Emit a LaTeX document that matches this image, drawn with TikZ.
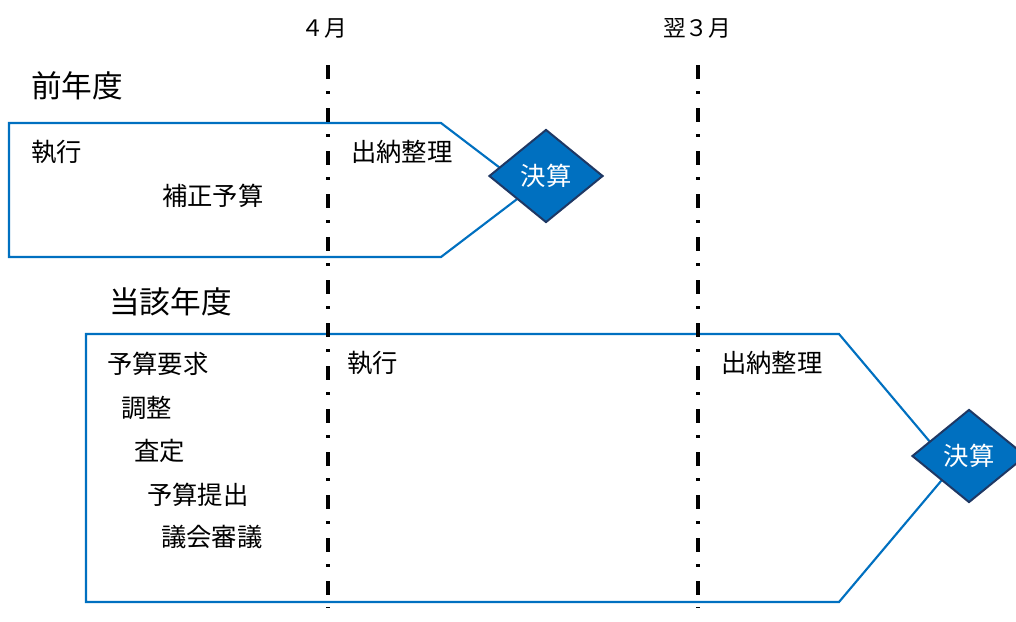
\documentclass[tikz,border=0pt]{standalone}
\usepackage{fontspec}
\setmainfont{Noto Sans CJK JP}
\usetikzlibrary{shapes.geometric}
\definecolor{lineblue}{HTML}{0070C0}
\definecolor{navy}{HTML}{1F3864}
\begin{document}
\begin{tikzpicture}[x=0.75pt,y=-0.75pt,
  period/.style={line width=2.6pt,dash pattern=on 10.5pt off 9pt on 2.25pt off 10.5pt},
  yearbox/.style={draw=lineblue,line width=1.6pt},
  kessan/.style={diamond,draw=navy,line width=1.5pt,fill=lineblue,text=white,inner sep=0pt,
    aspect=1.23,minimum width=85.5pt,minimum height=69.75pt,font=\fontsize{19}{19}\selectfont},
  item/.style={anchor=west,inner sep=0pt,font=\fontsize{19}{19}\selectfont},
  title/.style={anchor=west,inner sep=0pt,font=\fontsize{23}{23}\selectfont},
  month/.style={inner sep=0pt,font=\fontsize{17}{17}\selectfont}]
  \clip (0,0) rectangle (1016,621);

  % year boxes
  \draw[yearbox] (9,123)--(441,123)--(529,190)--(441,257)--(9,257)--cycle;
  \draw[yearbox] (86,334)--(839,334)--(952,468)--(839,602)--(86,602)--cycle;

  \node[kessan] (kessanA) at (546,176) {決算};
  \node[kessan] (kessanB) at (969,456) {決算};

  % months
  \node[month] (apr) at (324,28) {４月};
  \node[month] (mar) at (697,28) {翌３月};
  \draw[period] (328,65)--(328,608);
  \draw[period] (698,65)--(698,608);

  \node[title] (prevyear) at (31,86) {前年度};
  \node[item] (prevexec) at (31,152) {執行};
  \node[item] (hosei) at (162,196) {補正予算};
  \node[item] (prevsuito) at (351,152) {出納整理};

  \node[title] (curyear) at (109,302) {当該年度};
  \node[item] (yokyu) at (107,364) {予算要求};
  \node[item] (chosei) at (121,408) {調整};
  \node[item] (satei) at (134,451) {査定};
  \node[item] (teishutsu) at (147,495) {予算提出};
  \node[item] (shingi) at (161,537) {議会審議};
  \node[item] (curexec) at (347,363) {執行};
  \node[item] (cursuito) at (721,363) {出納整理};
\end{tikzpicture}
\end{document}
